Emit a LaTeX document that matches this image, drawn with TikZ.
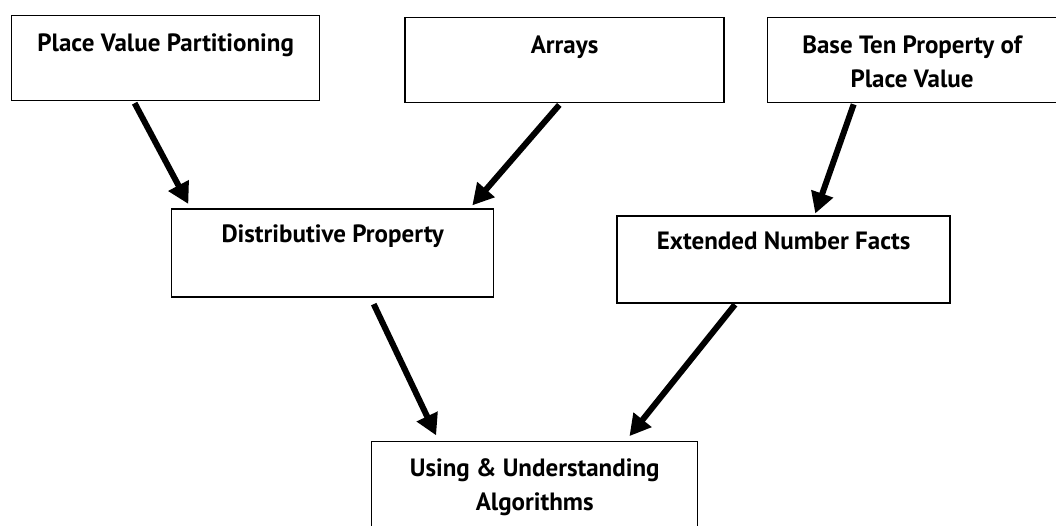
\documentclass[tikz,border=0pt]{standalone}
\usepackage{fontspec}
\setmainfont{PT Sans}
\usepackage{tikz}
\usetikzlibrary{
  arrows.meta,
  positioning,
}
\newcommand{\topicfont}{\fontsize{25}{34}\selectfont\bfseries}
\tikzstyle{drop} = [
  -{Triangle[length=21pt,width=22pt]},
  line width=6pt,
  black,
]

\begin{document}
\begin{tikzpicture}[
      topic/.style={draw, line width=1.4pt, inner sep=0pt, align=center, font=\topicfont, anchor=north west},
    ]
      \useasboundingbox (0,0) rectangle (1056pt,-525pt);
      \node [topic, minimum width=308pt, text height=36pt, text depth=49pt] (place) at (11pt,-15pt) {Place Value Partitioning};
      \node [topic, minimum width=319pt, text height=36pt, text depth=49pt, right=84pt of place.north east, anchor=north west, yshift=-2pt] (arrays) {Arrays};
      \node [topic, minimum width=289pt, text height=70pt, text depth=15pt, right=42pt of arrays.north east, anchor=north west] (baseten) {Base Ten Property of\\Place Value};
      \node [topic, minimum width=322pt, text height=33pt, text depth=55pt, below=107pt of place.south west, anchor=north west, xshift=160pt] (distrib) {Distributive Property};
      \node [topic, minimum width=333pt, text height=33pt, text depth=54pt, right=122pt of distrib.north east, anchor=north west, yshift=-7pt] (facts) {Extended Number Facts};
      \node [topic, minimum width=326pt, text height=69pt, text depth=31pt, below=143pt of distrib.south west, anchor=north west, xshift=200pt] (algo) {Using \& Understanding\\Algorithms};
      \draw [drop, shorten <=2pt, shorten >=5pt] ([xshift=-32pt]place.south) -- ([xshift=-142pt]distrib.north);
      \draw [drop, shorten <=2pt, shorten >=4pt] ([xshift=-4pt]arrays.south) -- ([xshift=137pt]distrib.north);
      \draw [drop, shorten <=1pt, shorten >=2pt] ([xshift=-58pt]baseten.south) -- ([xshift=31pt]facts.north);
      \draw [drop, shorten <=7pt, shorten >=6pt] ([xshift=38pt]distrib.south) -- ([xshift=-96pt]algo.north);
      \draw [drop, shorten <=1pt, shorten >=6pt] ([xshift=-48pt]facts.south) -- ([xshift=91pt]algo.north);
    \end{tikzpicture}
\end{document}
